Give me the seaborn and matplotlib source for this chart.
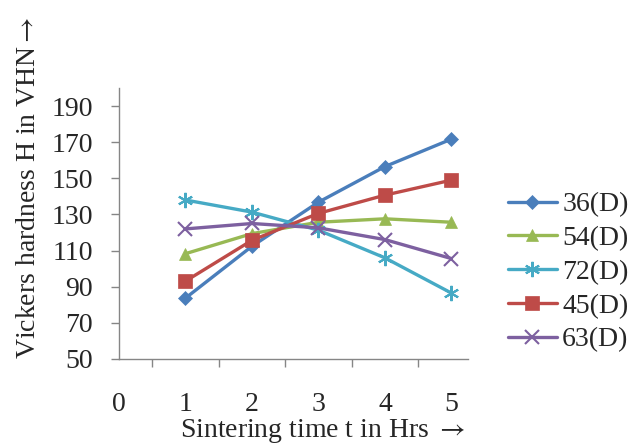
import matplotlib
matplotlib.use("Agg")
import matplotlib.pyplot as plt
import seaborn as sns
import pandas as pd
import numpy as np

sns.set_style("white")
plt.rcParams['font.family'] = ['Liberation Serif', 'DejaVu Serif']
plt.rcParams['mathtext.fontset'] = 'stix'

hours = [1, 2, 3, 4, 5]
x_labels = ["0", "1", "2", "3", "4", "5"]
series_names = ["36(D)", "54(D)", "72(D)", "45(D)", "63(D)"]
h36 = [83.7, 112.4, 136.8, 156.5, 171.7]
h54 = [108.3, 119.4, 125.7, 127.6, 125.7]
h72 = [138.0, 131.3, 121.3, 106.0, 86.5]
h45 = [93.1, 115.7, 130.6, 140.7, 149.0]
h63 = [122.0, 125.0, 122.6, 116.1, 105.6]
values = [h36, h54, h72, h45, h63]

colors = ["#4A7EBB", "#98B954", "#46AAC5", "#BE4B48", "#7D60A0"]
markers = ["D", "^", (6, 2, 0), "s", "x"]
msizes = [7, 9, 11, 10, 10]

fig = plt.figure(figsize=(6.4, 4.44), dpi=100)
ax = fig.add_axes([119/640, 1-359/444, (468-119)/640, (359-88)/444])

for name, vals, c, m, ms in zip(series_names, values, colors, markers, msizes):
    df = pd.DataFrame({"t": hours, "H": vals})
    sns.lineplot(data=df, x="t", y="H", ax=ax, color=c, marker=m, markersize=ms,
                 linewidth=2.4, markeredgecolor=c,
                 markeredgewidth=1.5 if m in ["x", (6, 2, 0)] else 0.5,
                 label=name)

ax.set_xlim(0, 5.25)
ax.set_ylim(50, 200)
ax.set_yticks(np.arange(50, 191, 20))
ax.set_xticks(range(6))
ax.set_xticklabels(x_labels)
ax.set_xticks(np.arange(0.5, 5.0, 1.0), minor=True)
ax.tick_params(axis='x', which='major', length=0, pad=24, labelsize=20)
ax.tick_params(axis='x', which='minor', length=6, width=1, color="#868686", direction='out', bottom=True)
ax.tick_params(axis='y', length=6, width=1, color="#868686", direction='out', left=True, labelsize=20, pad=13)
ax.set_xlabel("")
ax.set_ylabel("")
for s in ["top", "right"]:
    ax.spines[s].set_visible(False)
for s in ["left", "bottom"]:
    ax.spines[s].set_color("#868686")
    ax.spines[s].set_linewidth(1)

leg = ax.legend(loc="upper left", bbox_to_anchor=(508/640, 1-192/444),
                bbox_transform=fig.transFigure, frameon=False,
                fontsize=20, handlelength=1.75, handletextpad=0.2, labelspacing=0.3,
                borderaxespad=0, borderpad=0)

fig.text(322/640, 1-431/444, "Sintering time t in Hrs $\\rightarrow$", ha="center", va="center", fontsize=20)
fig.text(29/640, 1-188/444, "Vickers hardness H in VHN$\\rightarrow$", ha="center", va="center",
         rotation=90, fontsize=20)

fig.savefig("out.png", dpi=100)
